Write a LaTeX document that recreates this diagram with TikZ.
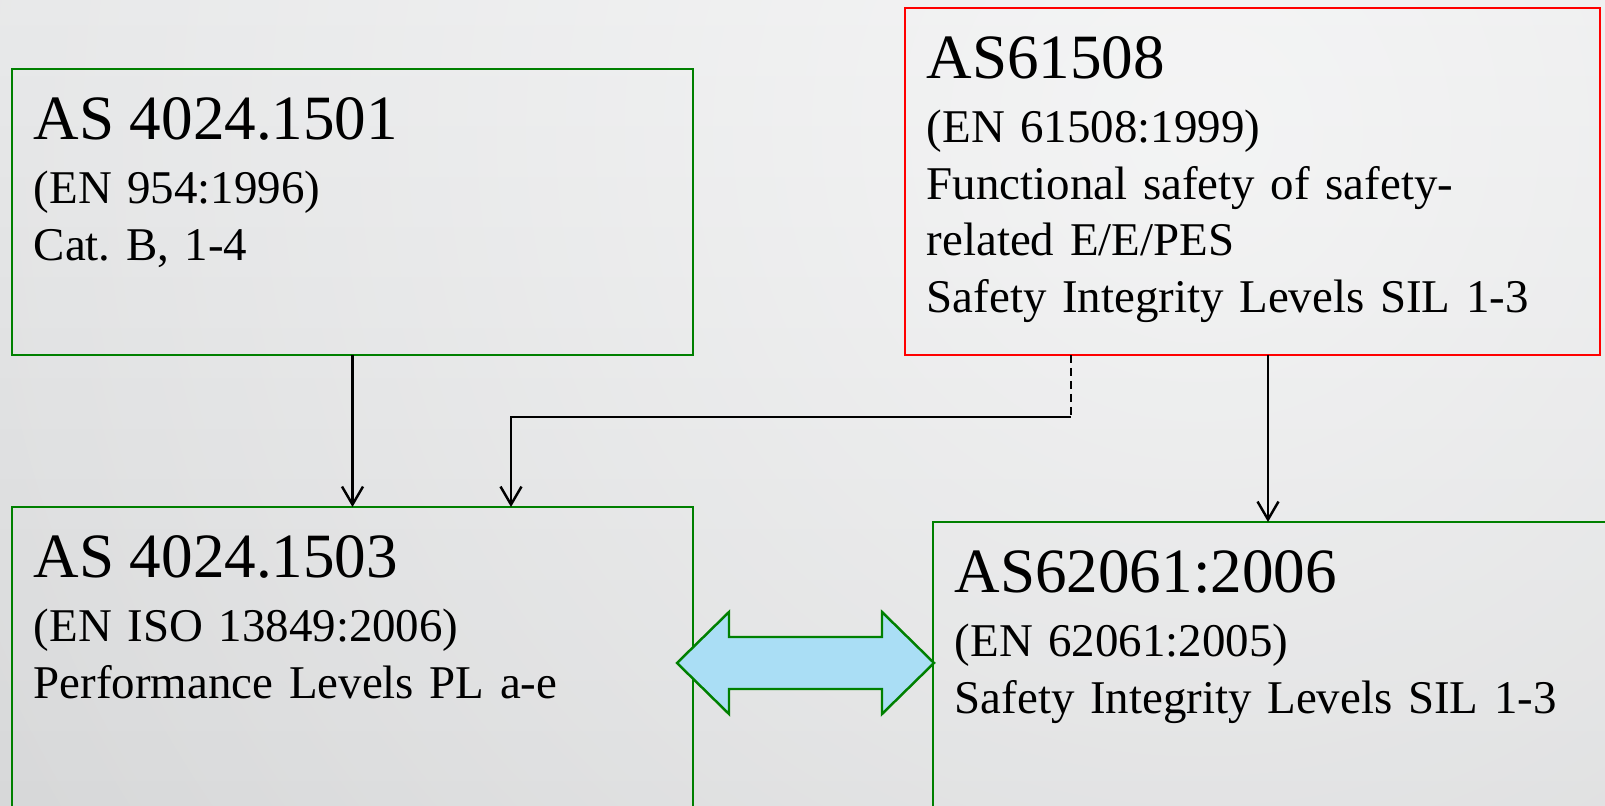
\documentclass[tikz,border=0pt]{standalone}
\usepackage{fontspec}
\setmainfont{Liberation Serif}
\usetikzlibrary{arrows.meta,fadings}

\definecolor{boxgreen}{RGB}{0,128,0}
\definecolor{boxred}{RGB}{255,0,0}
\definecolor{linkblue}{RGB}{170,222,245}
\definecolor{bgtop}{RGB}{229,230,231}
\definecolor{bgbot}{RGB}{213,214,215}

\tikzfading[name=glow, inner color=transparent!40, outer color=transparent!100]

\newcommand{\stdtitle}[1]{{\fontsize{35.9}{35.9}\selectfont #1\par}\vspace{3.5pt}}

\begin{document}
\frenchspacing
\begin{tikzpicture}[line width=1.4pt, >={Straight Barb[length=0.36cm,width=0.42cm]},
  stdbox/.style={draw=boxgreen, rectangle, anchor=north west, inner sep=0pt, outer sep=0pt},
  stdtext/.style={anchor=base west, inner sep=0pt, text width=14cm, align=left,
    font=\fontsize{26.7}{32.4}\selectfont}]

  \clip (0,0) rectangle (32.1,16.12);
  \shade[top color=bgtop, bottom color=bgbot] (0,0) rectangle (32.1,16.12);
  % soft light on the upper right
  \fill[white, path fading=glow] (24,13.5) circle (30);

  % the four standards
  \node[stdbox, minimum width=13.62cm, minimum height=5.72cm] (as1501) at (0.24,14.74) {};
  \node[stdbox, draw=boxred, minimum width=13.9cm, minimum height=6.94cm] (as61508) at (18.10,15.96) {};
  \node[stdbox, minimum width=13.62cm, minimum height=7cm] (as1503) at (0.24,5.98) {};
  \node[stdbox, minimum width=15cm, minimum height=7cm] (as62061) at (18.66,5.68) {};

  \node[stdtext] (as1501txt) at ([shift={(0.41,-1.42)}]as1501.north west)
    {\stdtitle{AS 4024.1501}(EN 954:1996)\\Cat. B, 1-4};
  \node[stdtext] (as61508txt) at ([shift={(0.41,-1.42)}]as61508.north west)
    {\stdtitle{AS61508}(EN 61508:1999)\\Functional safety of safety-\\related E/E/PES\\Safety Integrity Levels SIL 1-3};
  \node[stdtext] (as1503txt) at ([shift={(0.41,-1.42)}]as1503.north west)
    {\stdtitle{AS 4024.1503}(EN ISO 13849:2006)\\Performance Levels PL a-e};
  \node[stdtext] (as62061txt) at ([shift={(0.41,-1.42)}]as62061.north west)
    {\stdtitle{AS62061:2006}(EN 62061:2005)\\Safety Integrity Levels SIL 1-3};

  % links between them
  \coordinate (bend) at (21.42,7.78);
  \coordinate (drop) at (10.22,7.78);
  \coordinate (feed) at (25.36,7.78);
  \draw[->] (as1501.south) -- (as1503.north);
  \draw[dash pattern=on 0.16cm off 0.1cm] (as61508.south -| bend) -- (bend);
  \draw[->] (bend) -- (drop) -- (drop |- as1503.north);
  \draw[->] (as61508.south -| feed) -- (feed |- as62061.north);

  % equivalence arrow
  \draw[draw=boxgreen, fill=linkblue, line join=miter]
    (13.54,2.86) -- (14.58,3.88) -- (14.58,3.38) -- (17.64,3.38) -- (17.64,3.88)
    -- (18.68,2.86) -- (17.64,1.84) -- (17.64,2.34) -- (14.58,2.34) -- (14.58,1.84) -- cycle;

\end{tikzpicture}
\end{document}
